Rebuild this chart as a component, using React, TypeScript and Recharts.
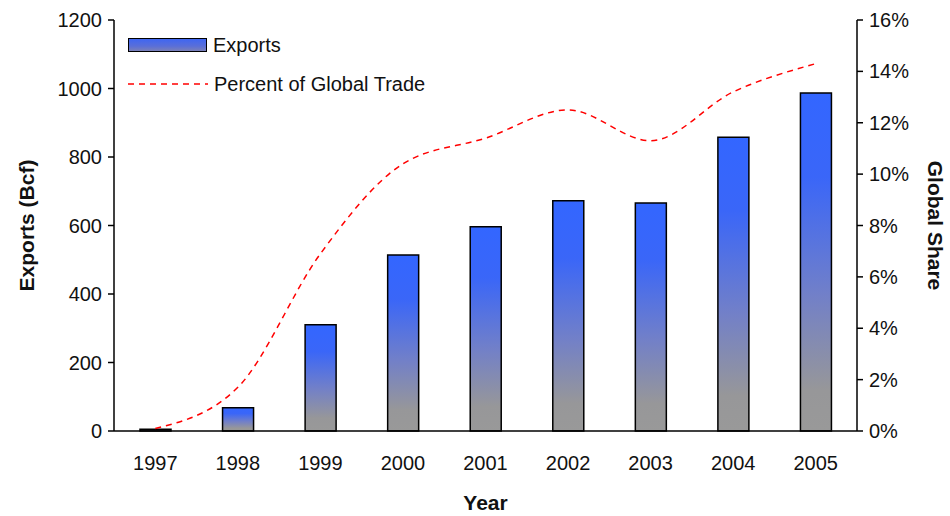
import React from "react";
import {
  Bar,
  ComposedChart,
  Line,
  XAxis,
  YAxis,
} from "recharts";

const years = ["1997", "1998", "1999", "2000", "2001", "2002", "2003", "2004", "2005"];
const exportsBcf = [5, 68, 310, 514, 596, 672, 666, 858, 987];
const globalSharePct = [0.1, 1.7, 6.9, 10.4, 11.4, 12.5, 11.3, 13.2, 14.3];
const leftTicks = [0, 200, 400, 600, 800, 1000, 1200];
const rightTicks = [0, 2, 4, 6, 8, 10, 12, 14, 16];

const data = years.map((year, i) => ({
  year,
  exports: exportsBcf[i],
  share: globalSharePct[i],
}));

const font = "'Liberation Sans', Arial, sans-serif";
const tickStyle = { fontSize: 20, fill: "#111", fontFamily: font };
const titleStyle = { fontSize: 21, fontWeight: 700, fill: "#111", fontFamily: font };

// legend sits inside the plot, top-left, like the original
function ChartLegend() {
  return (
    <div
      style={{
        position: "absolute",
        left: 128,
        top: 35,
        fontFamily: font,
        fontSize: 20,
        color: "#111",
        lineHeight: "20px",
      }}
    >
      <div style={{ display: "flex", alignItems: "center", height: 20 }}>
        <div
          style={{
            width: 77,
            height: 12,
            border: "1.5px solid #000",
            background: "linear-gradient(to bottom, #3f66f2, #5a6fd8 60%, #7a80b8)",
            marginRight: 6,
          }}
        />
        <span>Exports</span>
      </div>
      <div style={{ display: "flex", alignItems: "center", height: 20, marginTop: 19 }}>
        <svg width={80} height={4} style={{ marginRight: 6 }}>
          <line x1={0} y1={2} x2={80} y2={2} stroke="#ff0000" strokeWidth={1.5} strokeDasharray="6 5" />
        </svg>
        <span>Percent of Global Trade</span>
      </div>
    </div>
  );
}

export default function App() {
  return (
    <div style={{ position: "absolute", left: 0, top: 0, width: 950, height: 516, background: "#fff" }}>
      <ComposedChart
        width={950}
        height={516}
        data={data}
        margin={{ top: 20, right: 0, bottom: 0, left: 0 }}
      >
        <defs>
          <linearGradient id="barFill" x1="0" y1="0" x2="0" y2="1">
            <stop offset="0%" stopColor="#3366ff" />
            <stop offset="25%" stopColor="#3a66f8" />
            <stop offset="60%" stopColor="#7280c8" />
            <stop offset="88%" stopColor="#979799" />
            <stop offset="100%" stopColor="#999999" />
          </linearGradient>
        </defs>
        <XAxis
          dataKey="year"
          height={85}
          tickLine={false}
          tickSize={6}
          tickMargin={19}
          axisLine={{ stroke: "#000", strokeWidth: 1.5 }}
          tick={tickStyle}
          label={{ value: "Year", position: "insideBottom", offset: 6, style: titleStyle }}
        />
        <YAxis
          yAxisId="left"
          width={114}
          domain={[0, 1200]}
          ticks={leftTicks}
          interval={0}
          tickSize={6}
          tickMargin={6}
          tickLine={{ stroke: "#000", strokeWidth: 1.5 }}
          axisLine={{ stroke: "#000", strokeWidth: 1.5 }}
          tick={tickStyle}
          label={{
            value: "Exports (Bcf)",
            angle: -90,
            position: "insideLeft",
            offset: 27,
            style: { ...titleStyle, textAnchor: "middle" },
          }}
        />
        <YAxis
          yAxisId="right"
          orientation="right"
          width={93}
          domain={[0, 16]}
          ticks={rightTicks}
          interval={0}
          tickSize={6}
          tickMargin={6}
          tickFormatter={(v) => `${v}%`}
          tickLine={{ stroke: "#000", strokeWidth: 1.5 }}
          axisLine={{ stroke: "#000", strokeWidth: 1.5 }}
          tick={tickStyle}
          label={{
            value: "Global Share",
            angle: 90,
            position: "insideRight",
            offset: 15,
            style: { ...titleStyle, textAnchor: "middle" },
          }}
        />
        <Bar
          yAxisId="left"
          dataKey="exports"
          barSize={31}
          fill="url(#barFill)"
          stroke="#000"
          strokeWidth={1.5}
          isAnimationActive={false}
        />
        <Line
          yAxisId="right"
          dataKey="share"
          type="monotone"
          stroke="#ff0000"
          strokeWidth={1.5}
          strokeDasharray="6 5"
          dot={false}
          activeDot={false}
          isAnimationActive={false}
        />
      </ComposedChart>
      <ChartLegend />
    </div>
  );
}
